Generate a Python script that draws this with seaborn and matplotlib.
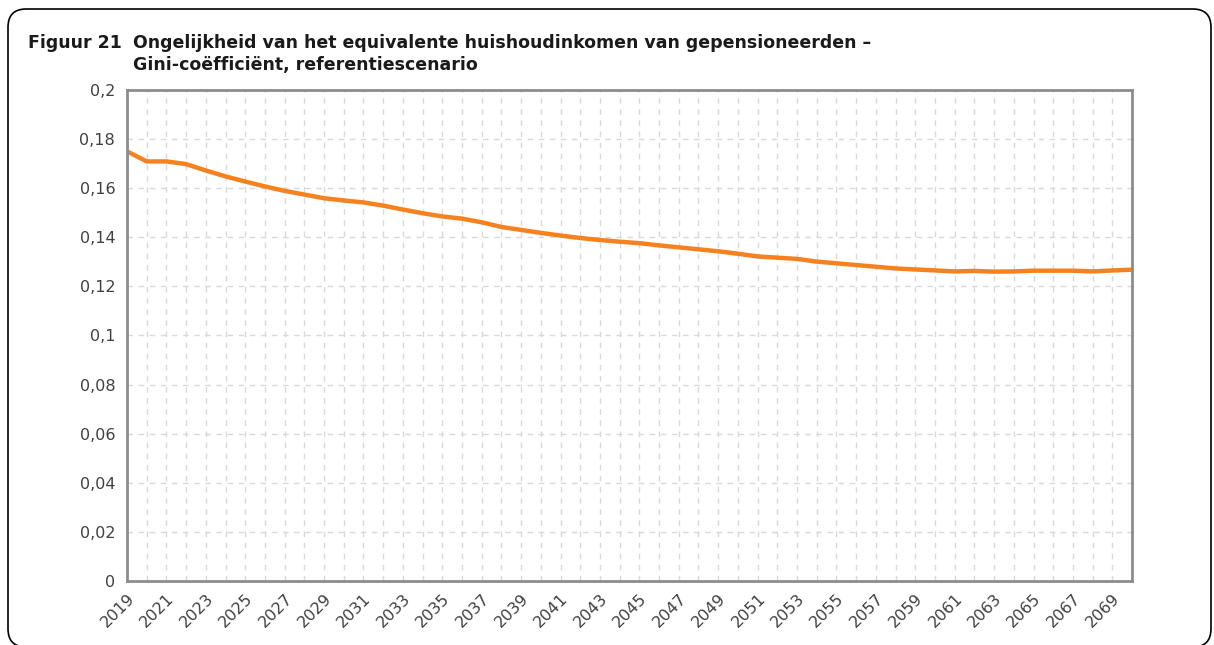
import matplotlib
matplotlib.use("Agg")
import matplotlib.pyplot as plt
import matplotlib.ticker as mticker
from matplotlib.patches import FancyBboxPatch
import seaborn as sns
import pandas as pd

years = list(range(2019, 2071))
gini = [0.1750, 0.1709, 0.1709, 0.1698, 0.1672, 0.1648, 0.1627, 0.1607, 0.1589, 0.1574,
        0.1559, 0.1550, 0.1542, 0.1529, 0.1513, 0.1498, 0.1485, 0.1476, 0.1461, 0.1442,
        0.1430, 0.1418, 0.1407, 0.1397, 0.1389, 0.1382, 0.1376, 0.1367, 0.1359, 0.1351,
        0.1343, 0.1333, 0.1322, 0.1317, 0.1312, 0.1301, 0.1294, 0.1287, 0.1280, 0.1273,
        0.1269, 0.1265, 0.1261, 0.1263, 0.1260, 0.1261, 0.1264, 0.1264, 0.1264, 0.1261,
        0.1265, 0.1268]
y_ticks = [0, 0.02, 0.04, 0.06, 0.08, 0.1, 0.12, 0.14, 0.16, 0.18, 0.2]

df = pd.DataFrame({"jaar": years, "gini": gini})

sns.set_style("white")
plt.rcParams['font.family'] = ['DejaVu Sans']

fig = plt.figure(figsize=(12.14, 6.45), dpi=100)
ax = fig.add_axes([0.1046, 0.0992, 0.9325 - 0.1046, 0.8605 - 0.0992])

sns.lineplot(data=df, x="jaar", y="gini", color="#F5821F", linewidth=3.2, ax=ax)

ax.set_xlim(years[0], years[-1])
ax.set_ylim(0, 0.2)
ax.set_xticks(years)
ax.set_xticklabels([str(y) if (y - years[0]) % 2 == 0 else "" for y in years],
                   rotation=45, ha="right", rotation_mode="anchor")
ax.set_yticks(y_ticks)
ax.yaxis.set_major_formatter(mticker.FuncFormatter(lambda v, p: ("%g" % round(v, 2)).replace(".", ",")))
ax.set_xlabel("")
ax.set_ylabel("")

ax.grid(True, color="#d9d9d9", linestyle=(0, (4, 4)), linewidth=1)
ax.set_axisbelow(True)
for s in ax.spines.values():
    s.set_visible(True)
    s.set_color("#8c8c8c")
    s.set_linewidth(2)
ax.tick_params(axis="both", direction="out", length=5, width=1.5, color="#8c8c8c",
               labelsize=11.5, labelcolor="#404040")
ax.tick_params(axis="x", pad=2)

title_kw = dict(fontsize=12.5, fontweight="bold", va="center", color="#1a1a1a")
fig.text(28 / 1214, 1 - 43 / 645, "Figuur 21", **title_kw)
fig.text(133 / 1214, 1 - 43 / 645,
         "Ongelijkheid van het equivalente huishoudinkomen van gepensioneerden –", **title_kw)
fig.text(133 / 1214, 1 - 65 / 645, "Gini-coëfficiënt, referentiescenario", **title_kw)

frame = FancyBboxPatch((8 / 1214, -2 / 645), 1203 / 1214, 638 / 645,
                       boxstyle="round,pad=0,rounding_size=0.015",
                       transform=fig.transFigure, fill=False, edgecolor="black",
                       linewidth=1.2, mutation_aspect=1214 / 645)
fig.patches.append(frame)

fig.savefig("out.png", dpi=100)
